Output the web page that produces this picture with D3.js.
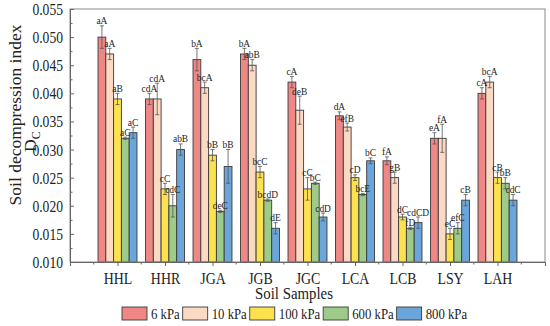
<!doctype html>
<html>
<head>
<meta charset="utf-8">
<script src="https://d3js.org/d3.v7.min.js"></script>
<style>
  body { margin: 0; background: #fff; }
  text { font-family: 'Liberation Serif', 'Times New Roman', serif; fill: #222; }
</style>
</head>
<body>
<svg id="chart" width="550" height="326"></svg>
<script>
// soil samples and loads
var samples = ["HHL", "HHR", "JGA", "JGB", "JGC", "LCA", "LCB", "LSY", "LAH"];
var loads = ["6 kPa", "10 kPa", "100 kPa", "600 kPa", "800 kPa"];
var colors = ["#ef8787", "#fcd9c2", "#fde24f", "#9fcb89", "#6ca5d9"];

// Dc values per load (one value per sample)
var dc6   = [0.050, 0.039, 0.046, 0.047, 0.042, 0.036, 0.028, 0.032, 0.040];
var dc10  = [0.047, 0.039, 0.041, 0.045, 0.037, 0.034, 0.025, 0.032, 0.042];
var dc100 = [0.039, 0.023, 0.029, 0.026, 0.023, 0.025, 0.018, 0.015, 0.025];
var dc600 = [0.032, 0.020, 0.019, 0.021, 0.024, 0.022, 0.016, 0.016, 0.024];
var dc800 = [0.033, 0.030, 0.027, 0.016, 0.018, 0.028, 0.017, 0.021, 0.021];

// error (sd)
var sd6   = [0.002, 0.001, 0.002, 0.001, 0.001, 0.0007, 0.0007, 0.001, 0.001];
var sd10  = [0.001, 0.0028, 0.001, 0.001, 0.0025, 0.0007, 0.001, 0.0025, 0.001];
var sd100 = [0.001, 0.001, 0.001, 0.001, 0.002, 0.0005, 0.0005, 0.001, 0.001];
var sd600 = [0.0002, 0.002, 0.0002, 0.0002, 0.0002, 0.0002, 0.0002, 0.001, 0.001];
var sd800 = [0.001, 0.001, 0.003, 0.001, 0.0007, 0.0005, 0.001, 0.001, 0.001];

// significance letters
var lab6   = ["aA", "cdA", "bA", "bA", "cA", "dA", "fA", "eA", "cA"];
var lab10  = ["aA", "cdA", "bcA", "abB", "deB", "efB", "gB", "fA", "bcA"];
var lab100 = ["aB", "cC", "bB", "bcC", "cC", "cD", "dC", "eC", "cB"];
var lab600 = ["aC", "cdC", "deC", "bcdD", "bC", "bcE", "fD", "efC", "bB"];
var lab800 = ["aC", "abB", "bB", "dE", "cdD", "bC", "cdCD", "cB", "cdC"];

var yTicks = [0.010, 0.015, 0.020, 0.025, 0.030, 0.035, 0.040, 0.045, 0.050, 0.055];

var values = [dc6, dc10, dc100, dc600, dc800];
var errors = [sd6, sd10, sd100, sd600, sd800];
var labels = [lab6, lab10, lab100, lab600, lab800];

var rows = [];
samples.forEach(function(s, i) {
  loads.forEach(function(l, j) {
    rows.push({sample: s, load: l, k: j, v: values[j][i], e: errors[j][i], t: labels[j][i]});
  });
});

// the source picture has narrow-looking text, squeeze it a bit
function squeeze(sel, f) {
  sel.each(function() {
    var w = this.getComputedTextLength();
    d3.select(this).attr("textLength", w * f).attr("lengthAdjust", "spacingAndGlyphs");
  });
}

var svg = d3.select("#chart");
var m = {left: 70, right: 545, top: 9, bottom: 262};

var x = d3.scalePoint().domain(samples).range([m.left, m.right]).padding(1);
var step = x.step();
var inner = d3.scaleBand().domain(loads).range([-step * 0.41, step * 0.41]);
var y = d3.scaleLinear().domain([0.010, 0.055]).range([m.bottom, m.top]);

// bars
svg.append("g").selectAll("rect")
  .data(rows).enter().append("rect")
  .attr("x", d => x(d.sample) + inner(d.load))
  .attr("y", d => y(d.v))
  .attr("width", inner.bandwidth())
  .attr("height", d => y(0.010) - y(d.v))
  .attr("fill", d => colors[d.k])
  .attr("stroke", "#3a3a3a")
  .attr("stroke-width", 0.9);

// error bars
var eg = svg.append("g").attr("stroke", "#555").attr("stroke-width", 0.8);
rows.forEach(function(d) {
  var cx = x(d.sample) + inner(d.load) + inner.bandwidth() / 2;
  eg.append("line").attr("x1", cx).attr("x2", cx).attr("y1", y(d.v + d.e)).attr("y2", y(d.v - d.e));
  eg.append("line").attr("x1", cx - 2).attr("x2", cx + 2).attr("y1", y(d.v + d.e)).attr("y2", y(d.v + d.e));
  eg.append("line").attr("x1", cx - 2).attr("x2", cx + 2).attr("y1", y(d.v - d.e)).attr("y2", y(d.v - d.e));
});

// letters
var lt = svg.append("g").selectAll("text")
  .data(rows).enter().append("text")
  .attr("x", d => x(d.sample) + inner(d.load) + inner.bandwidth() / 2)
  .attr("y", d => y(d.v + d.e) - 1.5)
  .attr("text-anchor", "middle")
  .attr("font-size", 10.5)
  .text(d => d.t);
squeeze(lt, 0.9);

// frame
svg.append("rect").attr("x", m.left).attr("y", m.top).attr("width", m.right - m.left).attr("height", m.bottom - m.top)
  .attr("fill", "none").attr("stroke", "#8a8a8a").attr("stroke-width", 1);

// y axis
var yAxis = d3.axisLeft(y).tickValues(yTicks).tickFormat(d3.format(".3f")).tickSize(-4).tickPadding(7);
var gy = svg.append("g").attr("transform", "translate(" + m.left + ",0)").call(yAxis);
gy.select(".domain").attr("stroke", "#666");
gy.selectAll(".tick line").attr("stroke", "#666");
gy.selectAll("text").attr("font-size", 17).attr("fill", "#222");
squeeze(gy.selectAll("text"), 0.8);
var yMinor = d3.axisLeft(y).tickValues(d3.range(0.0125, 0.055, 0.005)).tickSize(-2.5).tickFormat("");
var gym = svg.append("g").attr("transform", "translate(" + m.left + ",0)").call(yMinor);
gym.select(".domain").remove();
gym.selectAll(".tick line").attr("stroke", "#666");

// x axis
var xAxis = d3.axisBottom(x).tickSize(4).tickPadding(6);
var gx = svg.append("g").attr("transform", "translate(0," + m.bottom + ")").call(xAxis);
gx.select(".domain").attr("stroke", "#666");
gx.selectAll(".tick line").attr("stroke", "#666");
gx.selectAll("text").attr("font-size", 16.5).attr("fill", "#222");
squeeze(gx.selectAll("text"), 0.84);
var mids = samples.map(s => x(s) - step / 2).concat([x(samples[samples.length - 1]) + step / 2]);
svg.append("g").selectAll("line").data(mids).enter().append("line")
  .attr("x1", d => d).attr("x2", d => d).attr("y1", m.bottom).attr("y2", m.bottom + 2.5)
  .attr("stroke", "#666");

// titles
var xt = svg.append("text").attr("x", 294).attr("y", 299).attr("text-anchor", "middle")
  .attr("font-size", 16.5).text("Soil Samples");
squeeze(xt, 0.9);
svg.append("text").attr("transform", "translate(21,115) rotate(-90)").attr("text-anchor", "middle")
  .attr("font-size", 17.5).text("Soil decompression index");
var dcT = svg.append("text").attr("transform", "translate(36,152) rotate(-90)").attr("font-size", 17.5);
dcT.append("tspan").text("D");
dcT.append("tspan").attr("font-size", 12).attr("dy", 4).text("C");

// legend
var lg = svg.append("g");
var lx = 122;
loads.forEach(function(l, j) {
  lg.append("rect").attr("x", lx).attr("y", 307).attr("width", 25).attr("height", 13)
    .attr("fill", colors[j]).attr("stroke", "#3a3a3a").attr("stroke-width", 0.9);
  var t = lg.append("text").attr("x", lx + 29).attr("y", 318.5).attr("font-size", 15).text(l);
  var w = t.node().getComputedTextLength() * 0.85;
  t.attr("textLength", w).attr("lengthAdjust", "spacingAndGlyphs");
  lx += 29 + w + 3;
});
</script>
</body>
</html>
